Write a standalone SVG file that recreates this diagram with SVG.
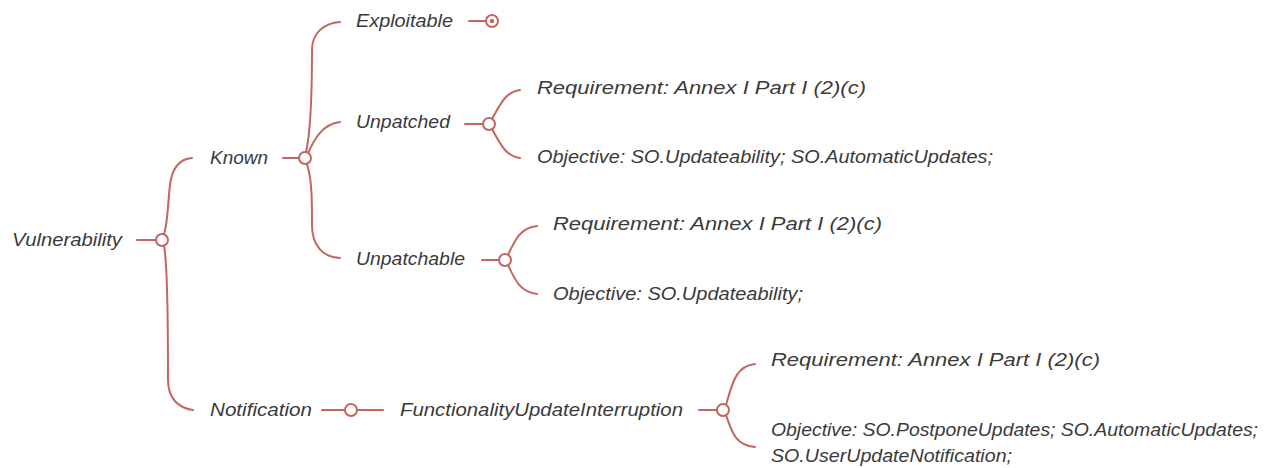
<svg xmlns="http://www.w3.org/2000/svg" width="1267" height="468" viewBox="0 0 1267 468">
<style>
text{font-family:"Liberation Sans","DejaVu Sans",sans-serif;font-style:italic;font-size:18px;fill:#3a3a3a}
.c{fill:none;stroke:#c4655e;stroke-width:2;stroke-linecap:round}
.n{fill:#fff;stroke:#c4655e;stroke-width:2}
.d{fill:#c4655e}
</style>
<rect width="1267" height="468" fill="#fff"/>
<g id="connectors">
<path class="c" d="M137,240 H156"/>
<path class="c" d="M164,234 C168,222 168,200 170,185 C172,168 180,159 192,158"/>
<path class="c" d="M164,246 C167,260 168,300 168,380 C168,398 178,408 193,410"/>
<path class="c" d="M283,158 H299"/>
<path class="c" d="M306,152 C310,135 312,100 312,50 C312,32 325,23 340,22"/>
<path class="c" d="M308,153 C314,140 322,124 340,122"/>
<path class="c" d="M307,164 C312,180 312,200 312,225 C312,245 322,257 340,258"/>
<path class="c" d="M469,21 H486"/>
<path class="c" d="M465,124 H483"/>
<path class="c" d="M492,119 C500,105 505,92 520,90"/>
<path class="c" d="M492,129 C500,143 505,156 520,158"/>
<path class="c" d="M482,260 H499"/>
<path class="c" d="M508,255 C515,240 520,228 537,226"/>
<path class="c" d="M508,265 C515,280 520,292 537,294"/>
<path class="c" d="M322,410 H345"/>
<path class="c" d="M357,410 H383"/>
<path class="c" d="M699,410 H717"/>
<path class="c" d="M726,405 C732,385 735,366 755,364"/>
<path class="c" d="M726,415 C732,432 735,445 755,447"/>
</g>
<g id="vulnerability"><text x="12" y="246" textLength="110" lengthAdjust="spacingAndGlyphs">Vulnerability</text><circle class="n" cx="162" cy="240" r="6"/></g>
<g id="known"><text x="210" y="164" textLength="58" lengthAdjust="spacingAndGlyphs">Known</text><circle class="n" cx="305" cy="158" r="6"/></g>
<g id="exploitable"><text x="356" y="27" textLength="97" lengthAdjust="spacingAndGlyphs">Exploitable</text><circle class="n" cx="492" cy="21" r="6"/><circle class="d" cx="492" cy="21" r="2.2"/></g>
<g id="unpatched"><text x="356" y="128" textLength="94" lengthAdjust="spacingAndGlyphs">Unpatched</text><circle class="n" cx="489" cy="124" r="6"/></g>
<g id="unpatched-req"><text x="537" y="94" textLength="329" lengthAdjust="spacingAndGlyphs">Requirement: Annex I Part I (2)(c)</text></g>
<g id="unpatched-obj"><text x="537" y="163" textLength="456" lengthAdjust="spacingAndGlyphs">Objective: SO.Updateability; SO.AutomaticUpdates;</text></g>
<g id="unpatchable"><text x="356" y="265" textLength="109" lengthAdjust="spacingAndGlyphs">Unpatchable</text><circle class="n" cx="505" cy="260" r="6"/></g>
<g id="unpatchable-req"><text x="553" y="230" textLength="329" lengthAdjust="spacingAndGlyphs">Requirement: Annex I Part I (2)(c)</text></g>
<g id="unpatchable-obj"><text x="553" y="300" textLength="250" lengthAdjust="spacingAndGlyphs">Objective: SO.Updateability;</text></g>
<g id="notification"><text x="210" y="416" textLength="102" lengthAdjust="spacingAndGlyphs">Notification</text><circle class="n" cx="351" cy="410" r="6"/></g>
<g id="fui"><text x="400" y="416" textLength="283" lengthAdjust="spacingAndGlyphs">FunctionalityUpdateInterruption</text><circle class="n" cx="723" cy="410" r="6"/></g>
<g id="fui-req"><text x="771" y="366" textLength="329" lengthAdjust="spacingAndGlyphs">Requirement: Annex I Part I (2)(c)</text></g>
<g id="fui-obj"><text x="771" y="436" textLength="487" lengthAdjust="spacingAndGlyphs">Objective: SO.PostponeUpdates; SO.AutomaticUpdates;</text><text x="771" y="462" textLength="241" lengthAdjust="spacingAndGlyphs">SO.UserUpdateNotification;</text></g>
</svg>
